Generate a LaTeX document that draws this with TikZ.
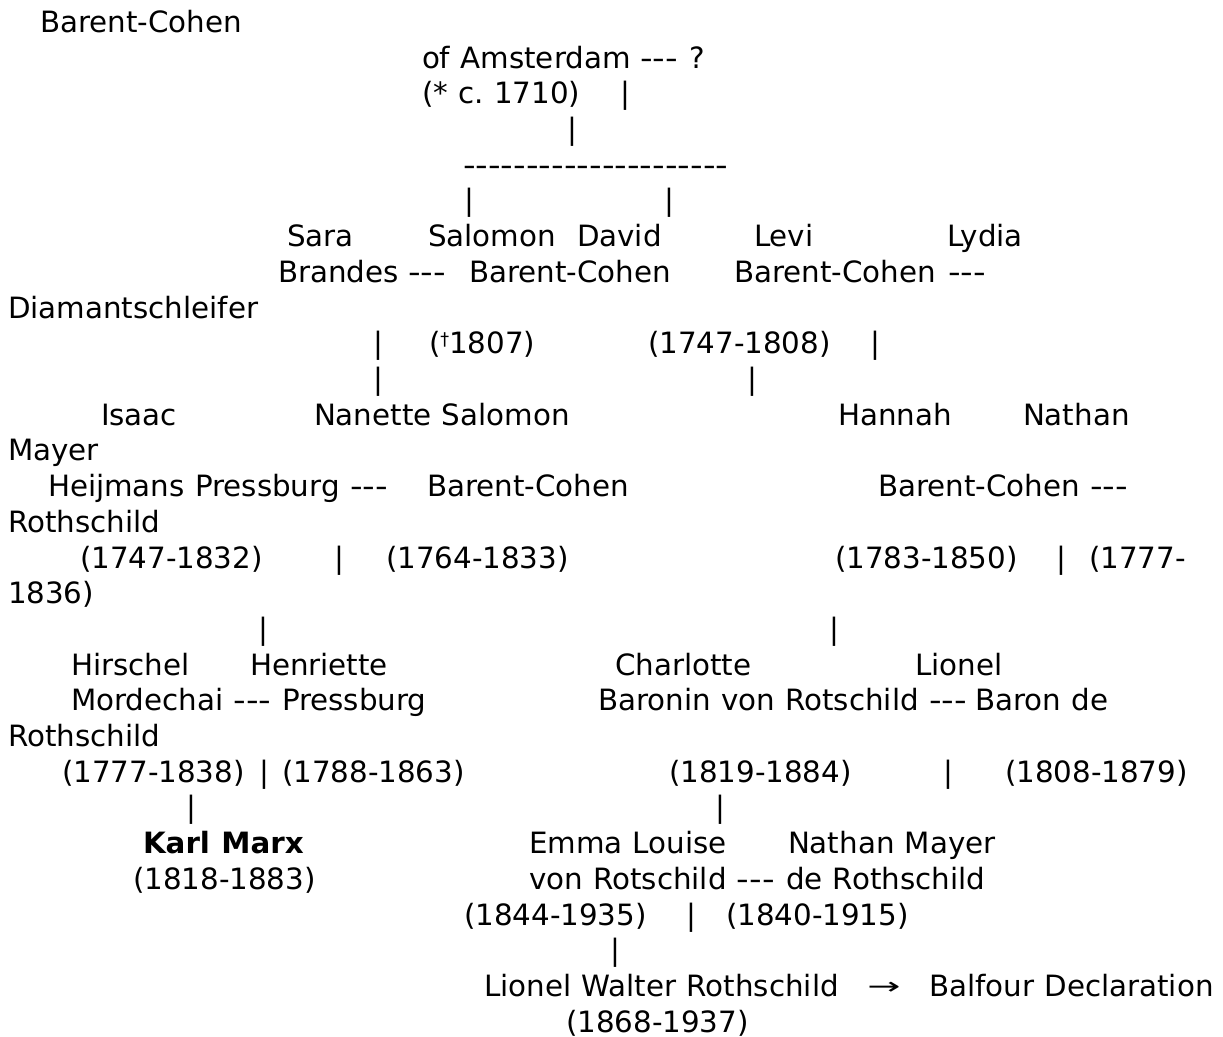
\documentclass[tikz,border=0pt]{standalone}
\usepackage{fontspec}
\setmainfont{DejaVu Sans}[WordSpace=1.105]
\usepackage{graphicx}
\newcommand\hy{\scalebox{1.194}[1]{\mbox{-}}}
\newcommand\tri{\hy\hy\hy}
\newcommand\dg{\raisebox{0.3em}{\scalebox{0.6}{†}}}
\newcommand\fsz{\fontsize{22pt}{26pt}\selectfont\frenchspacing}
\begin{document}
\begin{tikzpicture}[x=0.75pt,y=-0.75pt,
  every node/.style={font=\fsz, inner sep=0pt, outer sep=0pt, text=black},
  t/.style={anchor=base west},
  vbar/.style={anchor=base}]
\useasboundingbox[fill=white] (0,0) rectangle (1223,1037);
% line 1
\node[t] (bc0) at (40,32.5) {Barent-Cohen};
% line 2
\node[t] (amst) at (422,68.2) {of Amsterdam};
\node[t] (m0) at (640,68.2) {\tri};
\node[t] (q0) at (689,68.2) {?};
% line 3
\node[t] (b0) at (422,103.9) {(* c. 1710)};
\node[vbar] (v3) at (625,103.9) {|};
% line 4
\node[vbar] (v4) at (572,139.6) {|};
% line 5
\node[t] (dashes) at (463,175.3) {\hy\hy\hy\hy\hy\hy\hy\hy\hy\hy\hy\hy\hy\hy\hy\hy\hy\hy\hy\hy\hy};
% line 6
\node[vbar] (v6a) at (469,211) {|};
\node[vbar] (v6b) at (669,211) {|};
% line 7
\node[t] (sara) at (287,246.7) {Sara};
\node[t] (salomon) at (428,246.7) {Salomon};
\node[t] (david) at (577,246.7) {David};
\node[t] (levi) at (754,246.7) {Levi};
\node[t] (lydia) at (947,246.7) {Lydia};
% line 8
\node[t] (brandes) at (278,282.4) {Brandes};
\node[t] (m1) at (408,282.4) {\tri};
\node[t] (bc1) at (469,282.4) {Barent-Cohen};
\node[t] (bc2) at (734,282.4) {Barent-Cohen};
\node[t] (m2) at (948,282.4) {\tri};
% line 9
\node[t] (diam) at (8,318.1) {Diamantschleifer};
% line 10
\node[vbar] (v10a) at (378,353.8) {|};
\node[t] (d1807) at (429,353.8) {(\dg1807)};
\node[t] (y1747) at (648,353.8) {(1747-1808)};
\node[vbar] (v10b) at (875,353.8) {|};
% line 11
\node[vbar] (v11a) at (378,389.5) {|};
\node[vbar] (v11b) at (752,389.5) {|};
% line 12
\node[t] (isaac) at (101,425.2) {Isaac};
\node[t] (nanette) at (314,425.2) {Nanette Salomon};
\node[t] (hannah) at (838,425.2) {Hannah};
\node[t] (nathan) at (1023,425.2) {Nathan};
% line 13
\node[t] (mayer) at (8,460.9) {Mayer};
% line 14
\node[t] (heij) at (48,496.6) {Heijmans Pressburg \tri};
\node[t] (bc3) at (427,496.6) {Barent-Cohen};
\node[t] (bc4) at (878,496.6) {Barent-Cohen \tri};
% line 15
\node[t] (roth1) at (8,532.3) {Rothschild};
% line 16
\node[t] (y1832) at (80,568) {(1747-1832)};
\node[vbar] (v16a) at (339,568) {|};
\node[t] (y1833) at (386,568) {(1764-1833)};
\node[t] (y1850) at (835,568) {(1783-1850)};
\node[vbar] (v16b) at (1061,568) {|};
\node[t] (y1777) at (1089,568) {(1777-};
% line 17
\node[t] (y1836) at (8,603.7) {1836)};
% line 18
\node[vbar] (v18a) at (263,639.4) {|};
\node[vbar] (v18b) at (834,639.4) {|};
% line 19
\node[t] (hirschel) at (71,675.1) {Hirschel};
\node[t] (henriette) at (250,675.1) {Henriette};
\node[t] (charlotte) at (615,675.1) {Charlotte};
\node[t] (lionel) at (915,675.1) {Lionel};
% line 20
\node[t] (morde) at (71,710.8) {Mordechai \tri};
\node[t] (press) at (282,710.8) {Pressburg};
\node[t] (baronin) at (598,710.8) {Baronin von Rotschild \tri};
\node[t] (baron) at (975,710.8) {Baron de};
% line 21
\node[t] (roth2) at (8,746.5) {Rothschild};
% line 22
\node[t] (y1838) at (62,782.2) {(1777-1838)};
\node[vbar] (v22a) at (264,782.2) {|};
\node[t] (y1863) at (282,782.2) {(1788-1863)};
\node[t] (y1884) at (669,782.2) {(1819-1884)};
\node[vbar] (v22b) at (948,782.2) {|};
\node[t] (y1879) at (1005,782.2) {(1808-1879)};
% line 23
\node[vbar] (v23a) at (191,817.9) {|};
\node[vbar] (v23b) at (720,817.9) {|};
% line 24
\node[t] (marx) at (143,853.6) {\bfseries Karl Marx};
\node[t] (emma) at (529,853.6) {Emma Louise};
\node[t] (nmayer) at (788,853.6) {Nathan Mayer};
% line 25
\node[t] (y1883) at (133,889.3) {(1818-1883)};
\node[t] (vonr) at (529,889.3) {von Rotschild \tri};
\node[t] (deroth) at (786,889.3) {de Rothschild};
% line 26
\node[t] (y1935) at (464,925) {(1844-1935)};
\node[vbar] (v26) at (691,925) {|};
\node[t] (y1915) at (726,925) {(1840-1915)};
% line 27
\node[vbar] (v27) at (615,960.7) {|};
% line 28
\node[t] (lwr) at (484,996.4) {Lionel Walter Rothschild};
\node[vbar] (arr) at (884,996.4) {\raisebox{0.07em}{\scalebox{1.35}[0.8]{→}}};
\node[t] (balfour) at (929,996.4) {Balfour Declaration};
% line 29
\node[t] (y1937) at (566,1032.1) {(1868-1937)};
\end{tikzpicture}
\end{document}
